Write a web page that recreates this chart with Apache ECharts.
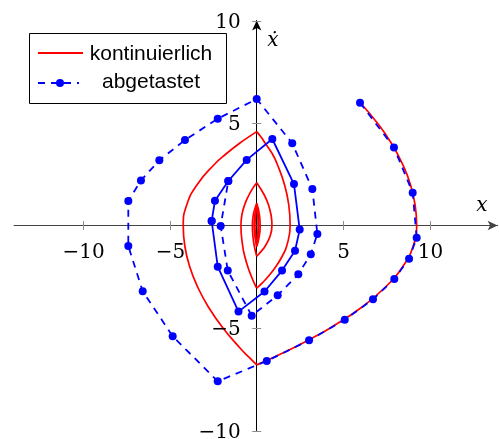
<!DOCTYPE html>
<html>
<head>
<meta charset="utf-8">
<script src="https://cdn.jsdelivr.net/npm/echarts@6/dist/echarts.min.js"></script>
<style>
  html, body { margin: 0; padding: 0; background: #fff; }
  #chart { width: 499px; height: 439px; }
</style>
</head>
<body>
<div id="chart"></div>
<script>
// Phase portrait: position x against velocity x-dot.
const xTicks = [-10, -5, 5, 10];
const yTicks = [-10, -5, 5, 10];

// Continuous trajectory, one array per half-plane arc (corners sit on x = 0).
const arcA = [[5.96, 6.0], [6.96, 5.0], [7.78, 4.0], [8.41, 3.0], [8.87, 2.0], [9.14, 1.0], [9.23, 0], [9.03, -1], [8.43, -2], [7.43, -3], [6.04, -4], [4.24, -5], [3.19, -5.5], [2.04, -6], [1.05, -6.4], [0, -6.8]];
const arcB = [[0, -6.8], [-0.48, -6.4], [-0.94, -6], [-1.95, -5], [-2.77, -4], [-3.41, -3], [-3.87, -2], [-4.15, -1], [-4.24, 0], [-4.04, 1], [-3.43, 2], [-2.42, 3], [-1.76, 3.5], [-1.01, 4], [-0.5, 4.3], [0, 4.58]];
const arcC = [[0, 4.58], [0.26, 4.3], [0.5, 4], [0.9, 3.5], [1.18, 3], [1.6, 2], [1.85, 1], [1.93, 0], [1.73, -1], [1.47, -1.5], [1.11, -2], [0.65, -2.5], [0.32, -2.8], [0, -3.06]];
const arcD = [[0, -3.06], [-0.15, -2.8], [-0.3, -2.5], [-0.52, -2], [-0.69, -1.5], [-0.81, -1], [-0.91, 0], [-0.86, 0.5], [-0.7, 1], [-0.44, 1.5], [-0.24, 1.8], [0, 2.09]];
const arcE = [[0, 2.09], [0.43, 1.5], [0.68, 1], [0.83, 0.5], [0.88, 0], [0.78, -0.5], [0.49, -1], [0.27, -1.25], [0, -1.5]];
const arcF = [[0, -1.5], [-0.14, -1], [-0.22, -0.5], [-0.25, 0], [-0.2, 0.5], [-0.11, 0.8], [0, 1.08]];
const arcG = [[0, 1.08], [0.16, 0.5], [0.2, 0], [0.15, -0.5], [0, -1.03]];
const arcH = [[0, -1.03], [-0.11, -0.5], [-0.15, 0], [-0.11, 0.5], [0, 1.0]];
const arcI = [[0, 1.0], [0.09, 0.5], [0.12, 0], [0.08, -0.5], [0, -0.98]];
const arcJ = [[0, -0.98], [-0.07, -0.5], [-0.1, 0], [-0.07, 0.5], [0, 0.95]];
const arcK = [[0, 0.95], [0.06, 0.5], [0.08, 0], [0.05, -0.5], [0, -0.93]];
const continuousArcs = [arcA, arcB, arcC, arcD, arcE, arcF, arcG, arcH, arcI, arcJ, arcK];

// Sampled trajectory (dashed) until it reaches the cycle.
const sampled = [
  [5.96, 5.99], [7.92, 3.80], [9.00, 1.60], [9.23, -0.60], [8.79, -1.62], [7.94, -2.61],
  [6.71, -3.60], [5.08, -4.60], [3.02, -5.60], [0.58, -6.61], [-2.25, -7.60], [-4.85, -5.40],
  [-6.58, -3.21], [-7.41, -1.00], [-7.41, 1.20], [-6.68, 2.20], [-5.62, 3.18], [-4.14, 4.17],
  [-2.25, 5.21], [0.0, 6.17], [2.05, 4.01], [3.21, 1.78], [3.50, -0.41], [3.12, -1.40],
  [2.40, -2.38], [1.21, -3.40], [-0.29, -4.40], [-1.67, -2.20], [-2.08, -0.02], [-1.64, 2.17]
];

// Closed cycle of the sampled system (solid).
const sampledCycle = [
  [-2.60, 0.22], [-2.41, 1.21], [-1.64, 2.17], [-0.58, 3.20], [0.90, 4.22], [2.15, 2.02],
  [2.48, -0.20], [2.21, -1.23], [1.46, -2.20], [0.45, -3.22], [-1.05, -4.20], [-2.25, -2.01],
  [-2.60, 0.22]
];

const RED = '#ff0000';
const BLUE = '#0000ff';
const TICK = '#8c8c8c';
const serif = '"DejaVu Serif", serif';
const sans = '"Liberation Sans", Arial, sans-serif';
const fmt = v => (v < 0 ? '\u2212' + Math.abs(v) : String(v));

const chart = echarts.init(document.getElementById('chart'), null, { renderer: 'canvas' });

const X_MIN = -14, X_MAX = 13.9, Y_MIN = -10, Y_MAX = 10;

const series = continuousArcs.map(arc => ({
  type: 'line', data: arc, smooth: 0.5, showSymbol: false, z: 2,
  lineStyle: { color: RED, width: 1.7 }, silent: true
}));
series.push({
  type: 'line', data: sampled, z: 3, symbol: 'circle', symbolSize: 8, showSymbol: true,
  itemStyle: { color: BLUE }, lineStyle: { color: BLUE, width: 1.8, type: [7, 6] }
});
series.push({
  type: 'line', data: sampledCycle, z: 4, symbol: 'circle', symbolSize: 8, showSymbol: true,
  itemStyle: { color: BLUE }, lineStyle: { color: BLUE, width: 1.8 }
});

chart.setOption({
  animation: false,
  backgroundColor: '#fff',
  grid: { left: 14.1, top: 20.5, width: 483.5, height: 410, containLabel: false, outerBoundsMode: 'none' },
  xAxis: {
    type: 'value', min: X_MIN, max: X_MAX,
    axisLine: { show: true, onZero: true, symbol: ['none', 'arrow'], symbolSize: [7, 10], lineStyle: { color: '#444', width: 1 } },
    axisTick: { show: false },
    axisLabel: { show: false },
    splitLine: { show: false }
  },
  yAxis: {
    type: 'value', min: Y_MIN, max: Y_MAX,
    axisLine: { show: true, onZero: true, symbol: ['none', 'arrow'], symbolSize: [7, 10], lineStyle: { color: '#000', width: 1 } },
    axisTick: { show: false },
    axisLabel: { show: false },
    splitLine: { show: false }
  },
  series: series
});

// Ticks crossing the axes and their labels, placed through the axis scales.
const origin = chart.convertToPixel({ gridIndex: 0 }, [0, 0]);
const ox = origin[0], oy = origin[1];
const TL = 4.5;
const deco = [];
xTicks.forEach(v => {
  const px = Math.round(chart.convertToPixel({ xAxisIndex: 0 }, v)) + 0.5;
  deco.push({ type: 'line', z: 5, shape: { x1: px, y1: oy - TL, x2: px, y2: oy + TL }, style: { stroke: TICK, lineWidth: 1 } });
  deco.push({ type: 'text', z: 5, x: px, y: oy + 27, style: { text: fmt(v), font: '20px ' + serif, fill: '#000', align: 'center', verticalAlign: 'middle' } });
});
yTicks.forEach(v => {
  const py = Math.round(chart.convertToPixel({ yAxisIndex: 0 }, v)) + 0.5;
  deco.push({ type: 'line', z: 5, shape: { x1: ox - TL, y1: py, x2: ox + TL, y2: py }, style: { stroke: TICK, lineWidth: 1 } });
  deco.push({ type: 'text', z: 5, x: ox - 16, y: py + 1, style: { text: fmt(v), font: '20px ' + serif, fill: '#000', align: 'right', verticalAlign: 'middle' } });
});

// Axis names
deco.push({ type: 'text', x: 482, y: 206, z: 10, style: { text: 'x', font: 'italic 20px ' + serif, fill: '#000', align: 'center', verticalAlign: 'middle' } });
deco.push({ type: 'text', x: 273, y: 41, z: 10, style: { text: '\u1E8B', font: 'italic 20px ' + serif, fill: '#000', align: 'center', verticalAlign: 'middle' } });

// Legend box
deco.push(
  { type: 'rect', z: 20, shape: { x: 29.5, y: 33.5, width: 197, height: 70 }, style: { fill: '#fff', stroke: '#000', lineWidth: 1 } },
  { type: 'line', z: 21, shape: { x1: 38, y1: 53, x2: 83, y2: 53 }, style: { stroke: RED, lineWidth: 1.8 } },
  { type: 'text', z: 21, x: 151, y: 54, style: { text: 'kontinuierlich', font: '21px ' + sans, fill: '#000', align: 'center', verticalAlign: 'middle' } },
  { type: 'line', z: 21, shape: { x1: 38, y1: 83, x2: 79, y2: 83 }, style: { stroke: BLUE, lineWidth: 1.8, lineDash: [7, 6] } },
  { type: 'circle', z: 22, shape: { cx: 60, cy: 83, r: 4 }, style: { fill: BLUE } },
  { type: 'text', z: 21, x: 151, y: 82, style: { text: 'abgetastet', font: '21px ' + sans, fill: '#000', align: 'center', verticalAlign: 'middle' } }
);

chart.setOption({ graphic: deco });
</script>
</body>
</html>
